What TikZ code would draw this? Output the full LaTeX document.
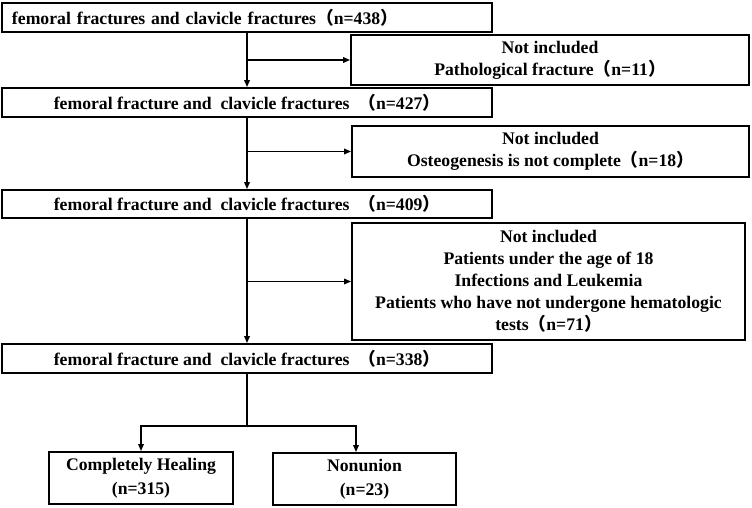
\documentclass[tikz,border=0pt]{standalone}
\usepackage{fontspec}
\setmainfont{Liberation Serif}
\newfontfamily\cjk{Noto Sans CJK SC}
\usetikzlibrary{arrows.meta}
\newcommand{\lpar}{{\cjk （}}
\newcommand{\rpar}{{\cjk ）}}

\begin{document}
\begin{tikzpicture}[x=1pt,y=-1pt,
  every node/.style={font=\bfseries\fontsize{17.7}{22}\selectfont},
  mainbox/.style={draw,line width=1.8pt,minimum width=490pt,minimum height=29pt,inner sep=0pt},
  exbox/.style={draw,line width=1.8pt,align=center,inner sep=0pt},
  endbox/.style={draw,line width=1.8pt,align=center,inner sep=0pt,minimum width=184pt,minimum height=52pt},
  flow/.style={line width=1.6pt,-{Triangle[length=7pt,width=5.5pt]}}]
  \useasboundingbox (0,0) rectangle (752,508);
  % main column
  \node[mainbox,text width=470pt,align=left] (n438) at (247,17.5) {femoral fractures and clavicle fractures\lpar n=438\rpar};
  \node[mainbox] (n427) at (247,102.5) {femoral fracture and~ clavicle fractures~ \lpar n=427\rpar};
  \node[mainbox,minimum height=28pt] (n409) at (247,204) {femoral fracture and~ clavicle fractures~ \lpar n=409\rpar};
  \node[mainbox] (n338) at (247,358.5) {femoral fracture and~ clavicle fractures~ \lpar n=338\rpar};
  % exclusions
  \node[exbox,minimum width=398pt,minimum height=50pt] (ex11) at (550,60) {Not included\\Pathological fracture\lpar n=11\rpar};
  \node[exbox,minimum width=397pt,minimum height=51pt] (ex18) at (550.5,151.5) {Not included\\Osteogenesis is not complete\lpar n=18\rpar};
  \node[exbox,minimum width=393pt,minimum height=117pt] (ex71) at (548.5,281.5) {Not included\\Patients under the age of 18\\Infections and Leukemia\\Patients who have not undergone hematologic\\tests\lpar n=71\rpar};
  % outcomes
  \node[endbox] (heal) at (141,478) {Completely Healing\\[2.5pt](n=315)};
  \node[endbox,minimum width=183pt] (nonunion) at (364.5,479) {Nonunion\\[2.5pt](n=23)};
  \draw[flow] (n438) -- (n427);
  \draw[flow] (n427) -- (n409);
  \draw[flow] (n409) -- (n338);
  \draw[flow] (n438.south |- ex11.west) -- (ex11.west);
  \draw[flow] (n427.south |- ex18.west) -- (ex18.west);
  \draw[flow] (n409.south |- ex71.west) -- (ex71.west);
  \coordinate (split) at (247,426);
  \draw[line width=1.6pt] (n338) -- (split);
  \draw[flow] (split) -| (heal);
  \draw[flow] (split) -| ([xshift=-8.5pt]nonunion.north);
\end{tikzpicture}
\end{document}
